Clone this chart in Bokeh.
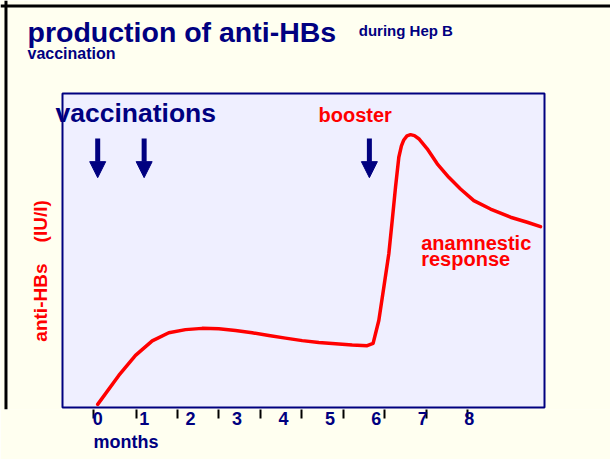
from bokeh.plotting import figure
from bokeh.models import Range1d, Label, Arrow, NormalHead, FixedTicker, LinearAxis, Span
from bokeh.embed import file_html
from bokeh.resources import INLINE

# ---- data ----
months = [0.0, 0.454, 0.814, 1.174, 1.531, 1.891, 2.250, 2.608, 2.967, 3.327,
          3.684, 4.044, 4.404, 4.761, 5.121, 5.480, 5.803, 5.93, 6.053, 6.161,
          6.268, 6.342, 6.413, 6.484, 6.540, 6.591, 6.660, 6.736, 6.820, 6.914,
          7.095, 7.311, 7.560, 7.812, 8.099, 8.458, 8.889, 9.249, 9.535]
anti_hbs = [1.0, 10.2, 16.6, 21.2, 23.8, 24.8, 25.2, 25.1, 24.5, 23.8,
            22.9, 22.1, 21.3, 20.7, 20.3, 19.9, 19.7, 20.4, 27.7, 38.3,
            48.9, 59.6, 70.2, 79.7, 83.3, 85.2, 86.5, 86.9, 86.6, 85.6,
            82.4, 77.6, 73.3, 69.6, 65.9, 63.2, 60.6, 59.0, 57.6]
vaccination_months = [0, 1]
booster_months = [5.85]
tick_label_months = [0, 1, 2, 3, 4, 5, 6, 7, 8]
tick_mark_months = [-0.084, 0.829, 1.712, 2.608, 3.506, 4.389, 5.286, 6.182, 7.080, 7.969]
x_title = "months"
y_title = "anti-HBs\u00a0\u00a0\u00a0\u00a0(IU/l)"

NAVY = "#000080"
RED = "#FF0000"
FONT = "Liberation Sans"

p = figure(width=610, height=459, frame_width=610, frame_height=409,
           min_border_left=0, min_border_right=0, min_border_top=0, min_border_bottom=50,
           x_range=Range1d(-2.093, 11.042), y_range=Range1d(-0.637, 129.62),
           output_backend="svg", toolbar_location=None)
p.background_fill_color = "#FFFFF0"
p.border_fill_color = "#FFFFF0"
p.outline_line_color = None
p.xgrid.grid_line_color = None
p.ygrid.grid_line_color = None
p.yaxis.visible = False

# slide border (top and left)
p.add_layout(Span(location=-1.975, dimension="height", line_color="black", line_width=3))
p.add_layout(Span(location=127.87, dimension="width", line_color="black", line_width=3))

# plot box
p.quad(left=[-0.758], right=[9.621], bottom=[0], top=[100],
       fill_color="#EFEFFF", line_color=NAVY, line_width=2)

# month axis: labels at whole months, tick marks as drawn on the slide
ax = p.xaxis[0]
ax.ticker = FixedTicker(ticks=tick_label_months, minor_ticks=tick_mark_months)
ax.axis_line_color = None
ax.major_tick_line_color = None
ax.major_tick_out = 0
ax.major_tick_in = 0
ax.minor_tick_line_color = "black"
ax.minor_tick_line_width = 2
ax.minor_tick_out = 9
ax.minor_tick_in = 0
ax.major_label_standoff = -7
ax.major_label_text_font = FONT
ax.major_label_text_font_style = "bold"
ax.major_label_text_font_size = "18px"
ax.major_label_text_color = NAVY

# "months" caption as a second axis row
ax2 = LinearAxis(ticker=FixedTicker(ticks=[0.61]), major_label_overrides={0.61: x_title},
                 axis_line_color=None, major_tick_line_color=None,
                 major_tick_out=0, major_tick_in=0, minor_tick_out=0, minor_tick_in=0,
                 major_label_standoff=4,
                 major_label_text_font=FONT, major_label_text_font_style="bold",
                 major_label_text_font_size="18px", major_label_text_color=NAVY)
p.add_layout(ax2, "below")

# curve
p.line(months, anti_hbs, line_color=RED, line_width=3.5, line_join="round", line_cap="round")

# arrows
for m in vaccination_months + booster_months:
    p.add_layout(Arrow(end=NormalHead(size=16, fill_color=NAVY, line_color=NAVY),
                       x_start=m, y_start=85.7, x_end=m, y_end=73.2,
                       line_color=NAVY, line_width=5))

def lab(text, x, y, size, color, align="left", angle=0):
    p.add_layout(Label(x=x, y=y, text=text, text_font=FONT, text_font_style="bold",
                       text_font_size=size, text_color=color,
                       text_baseline="middle", text_align=align, angle=angle))

lab("production of anti-HBs", -1.512, 119.5, "28.5px", NAVY)
lab("during Hep B", 5.622, 120.0, "15px", NAVY)
lab("vaccination", -1.512, 112.6, "16px", NAVY)
lab("vaccinations", -0.909, 93.8, "26.5px", NAVY)
lab("booster", 4.755, 93.0, "20px", RED)
lab("anamnestic", 6.966, 52.5, "20px", RED)
lab("response", 6.966, 47.2, "20px", RED)
lab(y_title, -1.232, 43.5, "19px", RED, align="center", angle=1.5708)

open("out.html", "w").write(file_html(p, INLINE))
